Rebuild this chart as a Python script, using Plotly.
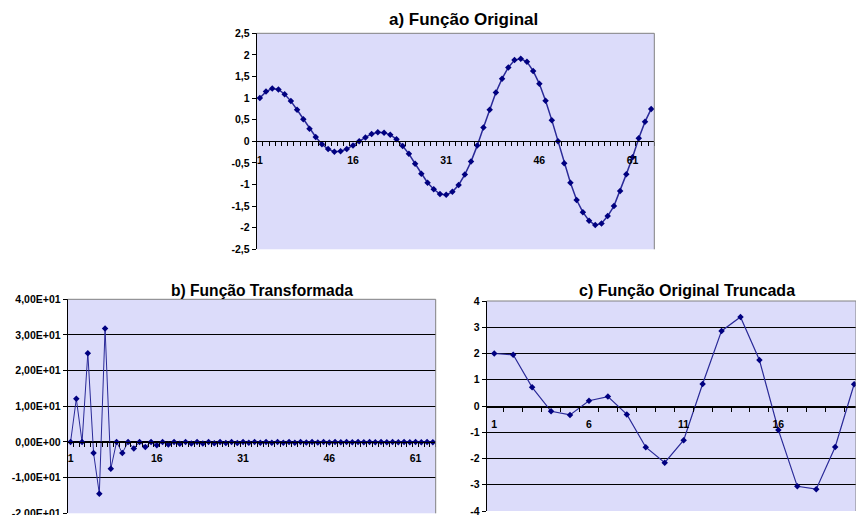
import plotly.graph_objects as go

W, H = 856, 515

# ---------------- data ----------------
idx_64 = list(range(1, 65))
idx_20 = list(range(1, 21))

original = [1.0, 1.15, 1.22, 1.2, 1.09, 0.93, 0.73, 0.51, 0.29, 0.10,
            -0.07, -0.18, -0.24, -0.23, -0.18, -0.10, 0.0, 0.09, 0.17, 0.21,
            0.2, 0.15, 0.05, -0.11, -0.29, -0.52, -0.75, -0.96, -1.11, -1.22,
            -1.24, -1.17, -1.01, -0.77, -0.47, -0.10, 0.32, 0.73, 1.13, 1.45,
            1.71, 1.88, 1.91, 1.84, 1.63, 1.33, 0.94, 0.49, 0.0, -0.51,
            -0.96, -1.36, -1.64, -1.84, -1.94, -1.9, -1.73, -1.5, -1.15, -0.76,
            -0.37, 0.07, 0.45, 0.75]

transformed = [0, 12.1, 0, 24.9, -3.1, -14.5, 31.8, -7.5, 0, -3.1, 0, -1.8, 0, -1.4, 0, -0.9,
               0, -0.7, 0, -0.5, 0, -0.45, 0, -0.4, 0, -0.35, 0, -0.3, 0, -0.3, 0, -0.25,
               0, -0.25, 0, -0.2, 0, -0.2, 0, -0.2, 0, -0.15, 0, -0.15, 0, -0.15, 0, -0.1,
               0, -0.1, 0, -0.1, 0, -0.1, 0, -0.1, 0, -0.1, 0, -0.05, 0, -0.05, 0, -0.05]

truncated = [2.0, 1.95, 0.71, -0.2, -0.34, 0.2, 0.36, -0.32, -1.57, -2.16,
             -1.3, 0.84, 2.86, 3.39, 1.75, -0.91, -3.06, -3.17, -1.56, 0.83]

xlab_64 = [1, 16, 31, 46, 61]
xlab_20 = [1, 6, 11, 16]

ya_vals = [2.5, 2, 1.5, 1, 0.5, 0, -0.5, -1, -1.5, -2, -2.5]
ya_text = ["2,5", "2", "1,5", "1", "0,5", "0", "-0,5", "-1", "-1,5", "-2", "-2,5"]
yb_vals = [40, 30, 20, 10, 0, -10, -20]
yb_text = ["4,00E+01", "3,00E+01", "2,00E+01", "1,00E+01", "0,00E+00", "-1,00E+01", "-2,00E+01"]
yc_vals = [4, 3, 2, 1, 0, -1, -2, -3, -4]
yc_text = ["4", "3", "2", "1", "0", "-1", "-2", "-3", "-4"]

titles = ["a) Função Original", "b) Função Transformada", "c) Função Original Truncada"]

# ---------------- style ----------------
NAVY = "#000080"
LINE = "#2a2a98"
BG = "#DCDCFA"
FONT = "Liberation Sans, Arial, sans-serif"
tickfont = dict(family=FONT, size=10.5, color="#000000", weight="bold")


def px_x(x):
    return x / W


def px_y(y):
    return 1 - y / H


fig = go.Figure()

fig.add_trace(go.Scatter(x=idx_64, y=original, mode="lines+markers",
                         line=dict(color=LINE, width=1.5),
                         marker=dict(symbol="diamond", size=5, color=NAVY),
                         xaxis="x", yaxis="y", showlegend=False))
fig.add_trace(go.Scatter(x=idx_64, y=transformed, mode="lines+markers",
                         line=dict(color=LINE, width=1),
                         marker=dict(symbol="diamond", size=5, color=NAVY),
                         xaxis="x2", yaxis="y2", showlegend=False))
fig.add_trace(go.Scatter(x=idx_20, y=truncated, mode="lines+markers",
                         line=dict(color=LINE, width=1.2),
                         marker=dict(symbol="diamond", size=5, color=NAVY),
                         xaxis="x3", yaxis="y3", showlegend=False, cliponaxis=False))


def xaxis_cfg(dom, rng, zero_px, labels, bounds, lab_len):
    return dict(domain=[px_x(dom[0]), px_x(dom[1])], range=rng, anchor="free",
                position=px_y(zero_px), showline=True, linecolor="#000000", linewidth=1,
                tickmode="array", tickvals=labels, ticktext=[str(v) for v in labels],
                ticks="outside", ticklen=lab_len, tickcolor="rgba(0,0,0,0)",
                tickfont=tickfont, showgrid=False, zeroline=False,
                ticklabeloverflow="allow",
                minor=dict(tickmode="array", tickvals=bounds, ticks="outside",
                           ticklen=4, tickcolor="#000000", tickwidth=1, showgrid=False),
                automargin=False, fixedrange=True)


def yaxis_cfg(anchor, dom_px, rng, vals, text, grid):
    return dict(domain=[px_y(dom_px[1]), px_y(dom_px[0])], range=rng, anchor=anchor,
                showline=True, linecolor="#000000", linewidth=1,
                tickmode="array", tickvals=vals, ticktext=text,
                ticks="outside", ticklen=4, tickcolor="#000000",
                tickfont=tickfont, showgrid=grid, gridcolor="#000000", gridwidth=1,
                ticklabeloverflow="allow",
                zeroline=False, automargin=False, fixedrange=True)


bounds_64 = [i + 0.5 for i in range(0, 65)]
bounds_20 = [i + 0.5 for i in range(1, 20)]

fig.update_layout(
    width=W, height=H,
    margin=dict(l=0, r=0, t=0, b=0),
    paper_bgcolor="#FFFFFF", plot_bgcolor=BG,
    xaxis=xaxis_cfg((256.7, 654.3), [0.5, 64.5], 141.3, xlab_64, bounds_64, 9),
    yaxis=yaxis_cfg("x", (33.3, 249.3), [-2.5, 2.5], ya_vals, ya_text, False),
    xaxis2=xaxis_cfg((67.7, 435.7), [0.5, 64.5], 442.3, xlab_64, bounds_64, 6),
    yaxis2=yaxis_cfg("x2", (299.3, 513.3), [-20, 40], yb_vals, yb_text, True),
    xaxis3=xaxis_cfg((486.7, 856), [0.6, 20.1], 406.7, xlab_20, bounds_20, 8),
    yaxis3=yaxis_cfg("x3", (301, 511), [-4, 4], yc_vals, yc_text, True),
)

# gray plot-area border (top and right edges)
for xr, yr in [("x", "y"), ("x2", "y2"), ("x3", "y3")]:
    fig.add_shape(type="line", xref=f"{xr} domain", yref=f"{yr} domain",
                  x0=0, x1=1, y0=1, y1=1, line=dict(color="#808080", width=1), layer="above")
    fig.add_shape(type="line", xref=f"{xr} domain", yref=f"{yr} domain",
                  x0=1, x1=1, y0=0, y1=1, line=dict(color="#808080", width=1), layer="above")

title_pos = [(463, 20, 17), (261.7, 290, 15.6), (686.7, 290, 16)]
for t, (cx, cy, fs) in zip(titles, title_pos):
    fig.add_annotation(text=f"<b>{t}</b>", xref="paper", yref="paper",
                       x=px_x(cx), y=px_y(cy), xanchor="center", yanchor="middle",
                       showarrow=False, font=dict(family=FONT, size=fs, color="#000000"))

fig.write_html("out.html", config={"displayModeBar": False},
               post_script="document.body.style.margin='0';document.body.style.overflow='hidden';")
